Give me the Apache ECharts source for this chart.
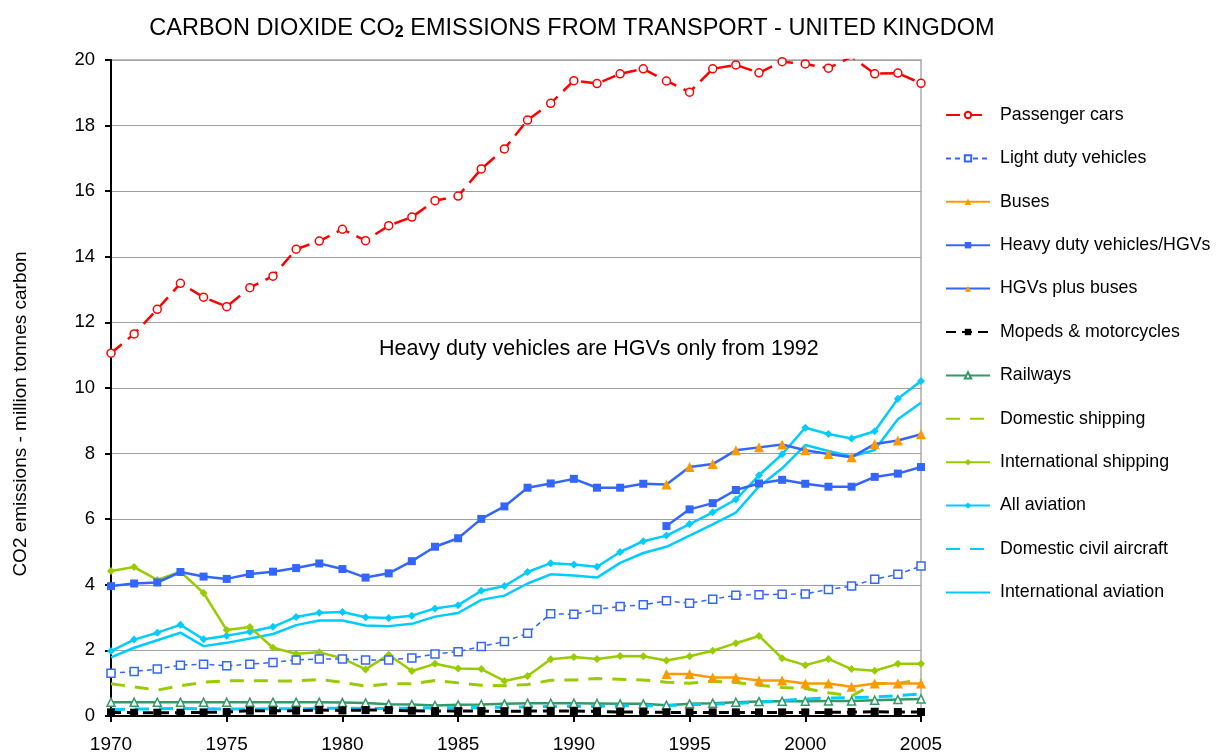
<!DOCTYPE html>
<html>
<head>
<meta charset="utf-8">
<script src="https://cdn.jsdelivr.net/npm/echarts@6/dist/echarts.min.js"></script>
<style>
  html, body { margin: 0; padding: 0; background: #fff; }
  #chart { width: 1216px; height: 756px; }
</style>
</head>
<body>
<div id="chart"></div>
<script>
const years = [];
for (let y = 1970; y <= 2005; y++) years.push(String(y));

const passengerCars = [11.06, 11.65, 12.40, 13.19, 12.77, 12.48, 13.06, 13.41, 14.23, 14.48,
  14.84, 14.49, 14.95, 15.21, 15.71, 15.85, 16.68, 17.29, 18.17, 18.68,
  19.37, 19.28, 19.58, 19.73, 19.36, 19.02, 19.73, 19.85, 19.61, 19.95,
  19.88, 19.75, 20.1, 19.58, 19.60, 19.29];
const lightDuty = [1.30, 1.36, 1.43, 1.55, 1.58, 1.53, 1.58, 1.63, 1.71, 1.74,
  1.74, 1.71, 1.71, 1.77, 1.89, 1.96, 2.12, 2.27, 2.52, 3.12,
  3.10, 3.25, 3.34, 3.39, 3.51, 3.44, 3.56, 3.68, 3.70, 3.71,
  3.72, 3.86, 3.96, 4.17, 4.32, 4.57];
// 1994-2005
const buses = [1.28, 1.28, 1.17, 1.17, 1.08, 1.08, 0.99, 0.99, 0.89, 0.99, 0.99, 0.99];
// 1970-1993
const heavyDutyEarly = [3.96, 4.04, 4.07, 4.39, 4.25, 4.18, 4.33, 4.40, 4.51, 4.65,
  4.48, 4.22, 4.35, 4.72, 5.16, 5.42, 6.01, 6.39, 6.96, 7.09,
  7.23, 6.96, 6.96, 7.08];
// 1994-2005
const hgvOnly = [5.79, 6.30, 6.49, 6.89, 7.09, 7.20, 7.08, 6.99, 6.99, 7.29, 7.39, 7.59];
// 1993-2005 (1993 joins the heavy duty line)
const hgvPlusBuses = [7.08, 7.06, 7.59, 7.68, 8.10, 8.19, 8.28, 8.10, 7.99, 7.89, 8.29, 8.40, 8.59];
const mopeds = [0.11, 0.10, 0.10, 0.10, 0.11, 0.12, 0.16, 0.16, 0.16, 0.18,
  0.17, 0.18, 0.18, 0.16, 0.15, 0.15, 0.15, 0.14, 0.15, 0.15,
  0.15, 0.14, 0.12, 0.12, 0.11, 0.11, 0.11, 0.11, 0.11, 0.11,
  0.11, 0.11, 0.12, 0.13, 0.12, 0.12];
const railways = [0.42, 0.42, 0.42, 0.42, 0.42, 0.42, 0.42, 0.42, 0.42, 0.42,
  0.41, 0.40, 0.36, 0.35, 0.32, 0.34, 0.35, 0.37, 0.39, 0.39,
  0.39, 0.38, 0.37, 0.37, 0.33, 0.37, 0.39, 0.42, 0.44, 0.45,
  0.45, 0.46, 0.46, 0.48, 0.50, 0.52];
const domesticShipping = [0.98, 0.89, 0.79, 0.92, 1.03, 1.07, 1.08, 1.07, 1.07, 1.11,
  1.03, 0.91, 0.98, 0.98, 1.08, 1.01, 0.94, 0.92, 0.96, 1.09,
  1.10, 1.14, 1.12, 1.10, 1.03, 1.00, 1.06, 1.02, 0.94, 0.87,
  0.84, 0.71, 0.61, 0.98, 1.00, 1.10];
const intlShipping = [4.42, 4.54, 4.15, 4.40, 3.75, 2.62, 2.71, 2.08, 1.90, 1.94,
  1.76, 1.42, 1.87, 1.37, 1.59, 1.45, 1.43, 1.07, 1.22, 1.73,
  1.80, 1.74, 1.83, 1.82, 1.69, 1.82, 1.99, 2.22, 2.44, 1.76,
  1.55, 1.74, 1.43, 1.38, 1.59, 1.59];
const allAviation = [1.98, 2.33, 2.54, 2.78, 2.34, 2.45, 2.57, 2.72, 3.02, 3.15,
  3.17, 3.01, 2.99, 3.06, 3.28, 3.38, 3.82, 3.96, 4.39, 4.66,
  4.62, 4.55, 5.00, 5.33, 5.50, 5.85, 6.21, 6.60, 7.34, 7.98,
  8.79, 8.60, 8.46, 8.68, 9.67, 10.21];
const domesticAir = [0.20, 0.21, 0.22, 0.23, 0.22, 0.21, 0.21, 0.22, 0.22, 0.23,
  0.24, 0.23, 0.23, 0.24, 0.25, 0.25, 0.26, 0.27, 0.28, 0.29,
  0.30, 0.30, 0.31, 0.31, 0.32, 0.34, 0.36, 0.38, 0.42, 0.47,
  0.52, 0.55, 0.56, 0.58, 0.62, 0.67];
const intlAviation = [1.79, 2.08, 2.31, 2.54, 2.13, 2.23, 2.36, 2.50, 2.77, 2.91,
  2.91, 2.76, 2.74, 2.81, 3.03, 3.14, 3.54, 3.67, 4.04, 4.32,
  4.28, 4.22, 4.67, 4.97, 5.16, 5.50, 5.84, 6.20, 7.00, 7.55,
  8.26, 8.08, 7.91, 8.11, 9.05, 9.55];

const legendNames = ["Passenger cars", "Light duty vehicles", "Buses", "Heavy duty vehicles/HGVs",
  "HGVs plus buses", "Mopeds & motorcycles", "Railways", "Domestic shipping",
  "International shipping", "All aviation", "Domestic civil aircraft", "International aviation"];

// place a partial series on the full year axis
function fromYear(start, vals) {
  const out = years.map(() => null);
  vals.forEach((v, i) => { out[+start - 1970 + i] = v; });
  return out;
}

const RED = "#ff0000", BLUE = "#3366ff", ORANGE = "#ff9900", GREEN = "#339966",
  LIME = "#99cc00", CYAN = "#00ccff";
const FONT = "Liberation Sans, Arial, sans-serif";

function line(name, data, color, opts) {
  const o = opts || {};
  const noMark = !o.symbol;
  return {
    name, type: "line", data,
    symbol: o.symbol || "circle",
    symbolSize: o.size || 8,
    showSymbol: !noMark,
    lineStyle: { color, width: o.width || 2.5, type: o.dash || "solid" },
    // series without markers get a see-through item colour so the legend shows only the line
    itemStyle: noMark
      ? { color: "rgba(0,0,0,0)", borderWidth: 0 }
      : { color: o.fill || color, borderColor: o.border || color, borderWidth: o.bw || 0 },
    z: o.z || 2,
    animation: false,
  };
}

const hgvBusData = fromYear(1993, hgvPlusBuses);
hgvBusData[23] = { value: hgvPlusBuses[0], symbol: "none" };

const chart = echarts.init(document.getElementById("chart"));
chart.setOption({
  backgroundColor: "#fff",
  textStyle: { fontFamily: FONT },
  title: {
    text: "CARBON DIOXIDE CO{sub|2} EMISSIONS FROM TRANSPORT - UNITED KINGDOM",
    left: 567, top: 11, textAlign: "center",
    textStyle: {
      fontSize: 23.5, fontWeight: "normal", color: "#000",
      rich: { sub: { fontSize: 16, fontWeight: "bold", verticalAlign: "bottom", padding: [9, 0, 0, 0] } },
    },
  },
  grid: { left: 111, right: 295, top: 60, bottom: 40, show: true, borderColor: "#c0c0c0", borderWidth: 2 },
  legend: {
    orient: "vertical", left: 940, top: 101,
    itemWidth: 44, itemHeight: 8, itemGap: 25.4,
    textStyle: { fontSize: 17.8, color: "#000", padding: [0, 0, 0, 5] },
    data: legendNames,
  },
  xAxis: {
    type: "category", data: years, boundaryGap: false,
    axisLine: { lineStyle: { color: "#000", width: 2 } },
    axisTick: { show: true, length: 6, lineStyle: { color: "#000", width: 2 }, interval: (i) => i % 5 === 0 },
    axisLabel: { interval: (i) => i % 5 === 0, fontSize: 19, color: "#000", margin: 19 },
    splitLine: { show: false },
  },
  yAxis: {
    type: "value", min: 0, max: 20, interval: 2,
    name: "CO2 emissions - million tonnes carbon",
    nameLocation: "middle", nameGap: 81,
    nameTextStyle: { fontSize: 19, color: "#000", padding: [0, 52, 0, 0] },
    axisLine: { show: true, lineStyle: { color: "#000", width: 2 } },
    axisTick: { show: true, inside: false, length: 6, lineStyle: { color: "#000", width: 2 } },
    axisLabel: { fontSize: 18.5, color: "#000", margin: 16 },
    splitLine: { lineStyle: { color: "#a0a0a0", width: 1 } },
  },
  graphic: [{
    type: "text", left: 379, top: 338,
    style: { text: "Heavy duty vehicles are HGVs only from 1992", fontSize: 21.5, fill: "#000", fontFamily: FONT },
  }],
  series: [
    line("Domestic shipping", domesticShipping, LIME, { width: 3, dash: [14, 10] }),
    line("Railways", railways, GREEN, { symbol: "triangle", size: 8, fill: "#fff", border: GREEN, bw: 1.5, width: 2.5 }),
    line("Domestic civil aircraft", domesticAir, CYAN, { width: 3, dash: [14, 10] }),
    line("Mopeds & motorcycles", mopeds, "#000", { symbol: "rect", size: 8, width: 3, dash: [10, 6] }),
    line("International aviation", intlAviation, CYAN, { width: 2.5 }),
    line("All aviation", allAviation, CYAN, { symbol: "diamond", size: 8, width: 2.5 }),
    line("International shipping", intlShipping, LIME, { symbol: "diamond", size: 8, width: 2.5 }),
    line("Buses", fromYear(1994, buses), ORANGE, { symbol: "triangle", size: 10, width: 2.5 }),
    line("Light duty vehicles", lightDuty, BLUE, { symbol: "rect", size: 8, fill: "#fff", border: BLUE, bw: 1.5, width: 1.5, dash: [5, 4] }),
    line("Heavy duty vehicles/HGVs", fromYear(1970, heavyDutyEarly), BLUE, { symbol: "rect", size: 8, width: 2.5 }),
    line("Heavy duty vehicles/HGVs", fromYear(1994, hgvOnly), BLUE, { symbol: "rect", size: 8, width: 2.5 }),
    line("HGVs plus buses", hgvBusData, BLUE, { symbol: "triangle", size: 10, fill: ORANGE, border: ORANGE, width: 2.5, z: 3 }),
    line("Passenger cars", passengerCars, RED, { symbol: "circle", size: 8, fill: "#fff", border: RED, bw: 1.5, width: 2.5, dash: [14, 8], z: 4 }),
  ],
});
</script>
</body>
</html>
